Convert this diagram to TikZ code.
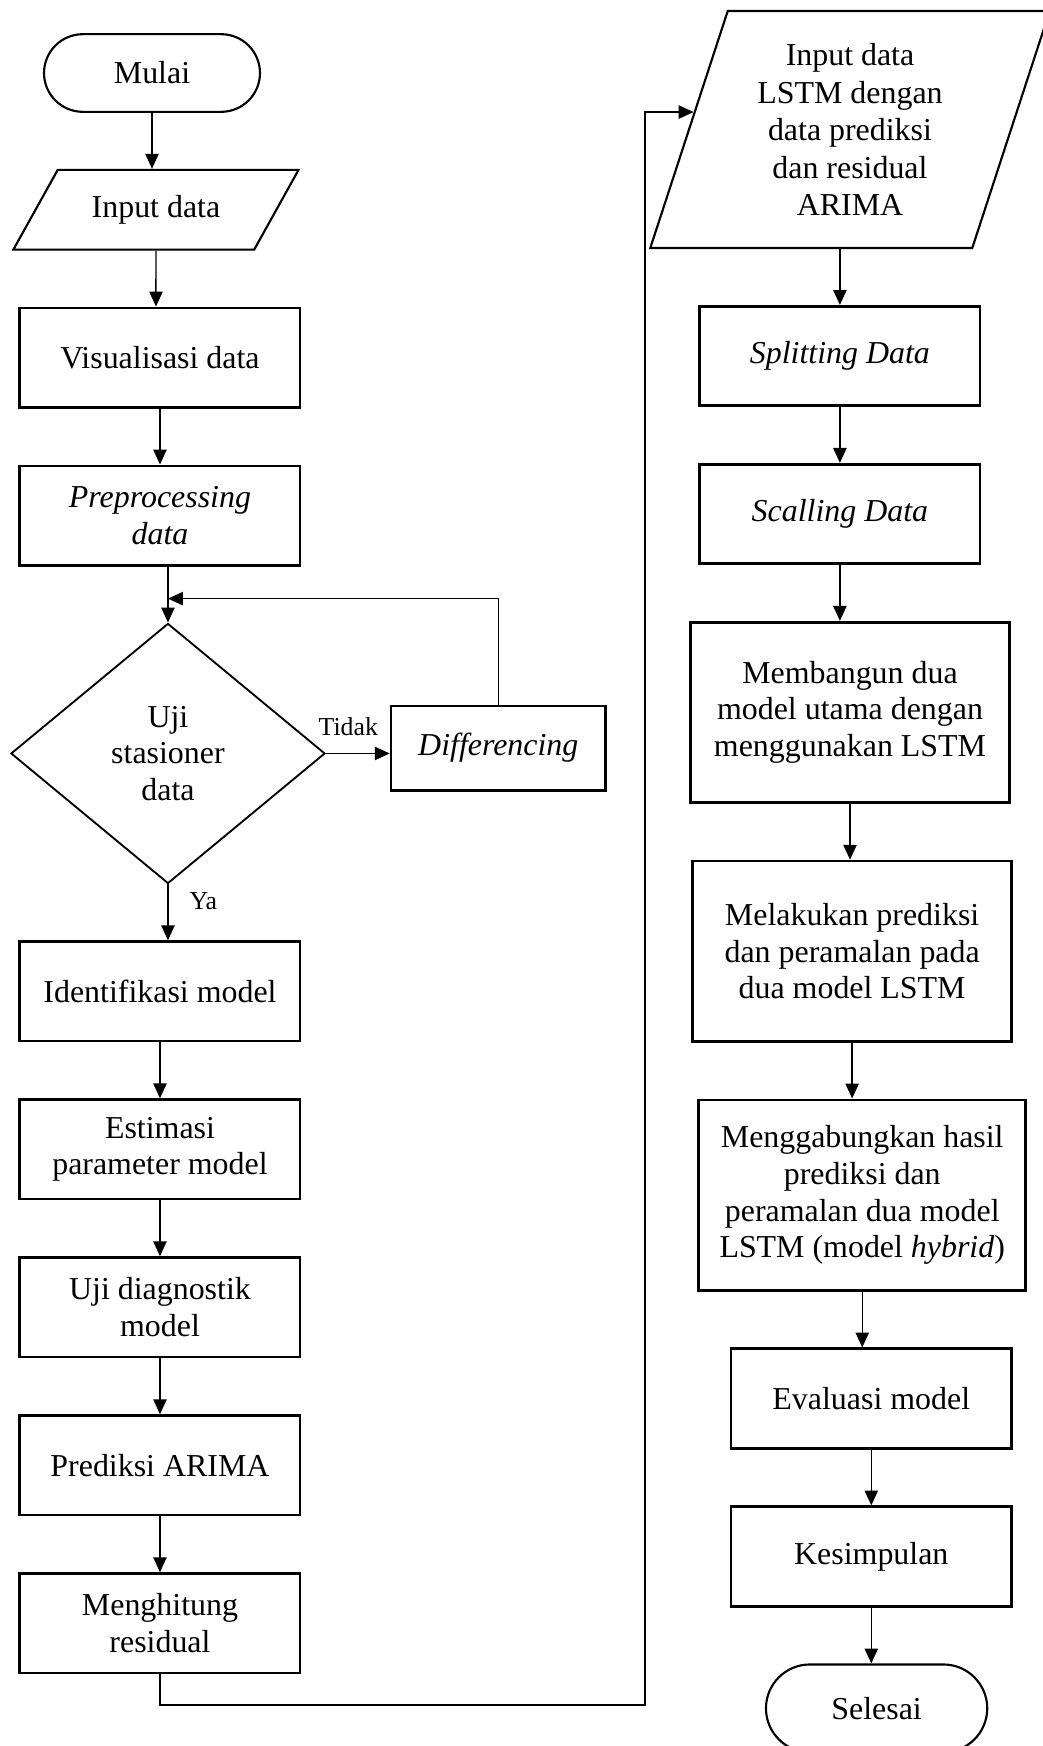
\documentclass[tikz,border=0pt]{standalone}
\usepackage{fontspec}
\setmainfont{Liberation Serif}
\usetikzlibrary{arrows.meta,positioning,shapes.geometric,calc}
\begin{document}
\begin{tikzpicture}[x=0.376pt,y=-0.376pt,node distance=21pt,
  font=\fontsize{12}{13.8}\selectfont,>={Triangle[length=5.6pt,width=5pt]},
  proses/.style={draw,line width=1pt,align=center,minimum width=105.4pt,minimum height=37.4pt},
  terminal/.style={draw,line width=0.8pt,rounded corners=14.6pt,minimum width=81.2pt,minimum height=29.2pt},
  io/.style={draw,line width=0.8pt,trapezium,trapezium stretches=true,align=center},
  keputusan/.style={draw,line width=0.7pt,diamond,align=center,inner sep=0pt,
  minimum width=118.1pt,minimum height=97.8pt},
  ket/.style={font=\fontsize{9.7}{11}\selectfont},garis/.style={->,line width=0.55pt}]
\useasboundingbox (0,0) rectangle (1043,1746);
\node[terminal] (mulai) at (152,73) {Mulai};
\node[io,trapezium left angle=54.7,trapezium right angle=125.3,minimum width=107.5pt,
  minimum height=30pt,below=of mulai,xshift=1.5pt] (input) {Input data};
\node[proses,below=of input,xshift=1.5pt] (visual) {Visualisasi data};
\node[proses,below=of visual] (prep) {\textit{Preprocessing}\\\textit{data}};
\node[keputusan,below=of prep,xshift=3pt] (uji) {Uji\\stasioner\\data};
\node[proses,minimum width=80.6pt,minimum height=31.7pt,right=24pt of uji,yshift=2pt] (diff) {\textit{Differencing}};
\node[proses,below=of uji,xshift=-3pt] (ident) {Identifikasi model};
\node[proses,below=of ident] (estim) {Estimasi\\parameter model};
\node[proses,below=of estim] (diag) {Uji diagnostik\\model};
\node[proses,below=of diag] (arima) {Prediksi ARIMA};
\node[proses,below=of arima] (resid) {Menghitung\\residual};
\node[io,trapezium left angle=71.3,trapezium right angle=108.7,minimum width=150.4pt,
  minimum height=89.1pt,font=\fontsize{12}{14.1}\selectfont] (lstm) at (850,129.5)
  {Input data\\LSTM dengan\\data prediksi\\dan residual\\ARIMA};
\node[proses,below=of lstm,xshift=-3.8pt] (split) {\textit{Splitting Data}};
\node[proses,below=of split] (scal) {\textit{Scalling Data}};
\node[proses,minimum width=120pt,minimum height=67.8pt,below=of scal,xshift=3.8pt] (bangun) {Membangun dua\\model utama dengan\\menggunakan LSTM};
\node[proses,minimum width=120pt,minimum height=67.8pt,below=of bangun,xshift=0.8pt] (prediksi) {Melakukan prediksi\\dan peramalan pada\\dua model LSTM};
\node[proses,minimum width=123pt,minimum height=71.6pt,below=of prediksi,xshift=3.8pt] (gabung) {Menggabungkan hasil\\prediksi dan\\peramalan dua model\\LSTM (model \textit{hybrid})};
\node[proses,below=of gabung,xshift=3.4pt] (eval) {Evaluasi model};
\node[proses,below=of eval] (simpul) {Kesimpulan};
\node[terminal,minimum width=83.2pt,minimum height=33pt,rounded corners=16.5pt,
  below=of simpul,xshift=2pt] (selesai) {Selesai};
\foreach \a/\b in {mulai/input,input/visual,visual/prep,ident/estim,estim/diag,diag/arima,arima/resid,
  split/scal,scal/bangun,bangun/prediksi,prediksi/gabung,gabung/eval,eval/simpul,simpul/selesai}
  \draw[garis] (\a) -- (\a |- \b.north);
\draw[garis] (lstm.south -| split) -- (split);
\draw[garis] (prep.south -| uji.north) -- (uji.north);
\draw[garis] (uji) -- node[ket,right=4.5pt,pos=0.3]{Ya} (uji |- ident.north);
\draw[garis] (uji.east) -- node[ket,above=3pt,pos=0.35]{Tidak} (uji.east -| diff.west);
\coordinate (balik) at ($(prep.south -| uji.north)+(0,32)$);
\draw[garis,line width=0.5pt] (diff.north) |- (balik);
\coordinate (belok) at (645,1705);
\draw[garis] (resid.south) |- (belok) |- ($(lstm.bottom left corner)!0.573!(lstm.top left corner)$);
\end{tikzpicture}
\end{document}
